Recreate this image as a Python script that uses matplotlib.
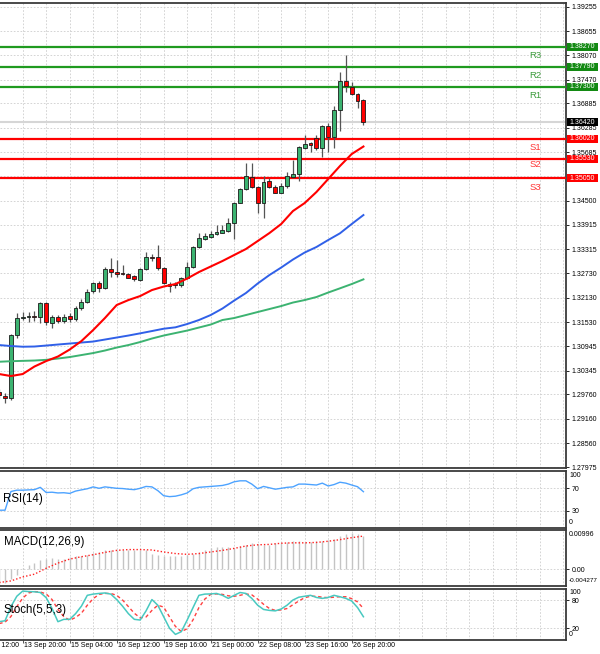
import matplotlib
matplotlib.use("Agg")
import matplotlib.pyplot as plt
import matplotlib.transforms as mtransforms
from matplotlib.patches import Rectangle
import numpy as np

plt.rcParams['font.family'] = ['Liberation Sans', 'DejaVu Sans']

# USDCAD H4 candles; index 0 is 13 Sep 20:00, the first one shown is index -4
first_idx = -4
opens = [1.29826, 1.29720, 1.29671, 1.31214, 1.31631, 1.31655, 1.31690, 1.31663, 1.32005, 1.31516,
         1.31648, 1.31565, 1.31680, 1.31599, 1.31868, 1.32030, 1.32292, 1.32480, 1.32373, 1.32823,
         1.32765, 1.32725, 1.32701, 1.32659, 1.32561, 1.32823, 1.33125, 1.33117, 1.32863, 1.32422,
         1.32463, 1.32439, 1.32603, 1.32872, 1.33362, 1.33565, 1.33622, 1.33681, 1.33720, 1.33769,
         1.33950, 1.34454, 1.34783, 1.35091, 1.34846, 1.34440, 1.34986, 1.34846, 1.34699, 1.34871,
         1.35091, 1.35157, 1.35802, 1.35909, 1.36032, 1.35787, 1.36333, 1.36071, 1.36725, 1.37442,
         1.37296, 1.37109, 1.36970]
highs = [1.29892, 1.29786, 1.31251, 1.31746, 1.31785, 1.31785, 1.31809, 1.32030, 1.32030, 1.31704,
         1.31704, 1.31720, 1.31760, 1.31917, 1.32096, 1.32333, 1.32520, 1.32537, 1.32887, 1.33093,
         1.33051, 1.32929, 1.32725, 1.32684, 1.32848, 1.33240, 1.33198, 1.33418, 1.32887, 1.32505,
         1.32520, 1.32642, 1.33010, 1.33401, 1.33720, 1.33705, 1.33769, 1.33908, 1.33908, 1.34087,
         1.34479, 1.34807, 1.35434, 1.35434, 1.34863, 1.35108, 1.35052, 1.34888, 1.34930, 1.35214,
         1.35500, 1.35843, 1.36113, 1.35949, 1.36113, 1.36357, 1.36399, 1.36823, 1.37663, 1.38072,
         1.37403, 1.37134, 1.36987]
lows = [1.29671, 1.29541, 1.29622, 1.31133, 1.31582, 1.31540, 1.31565, 1.31520, 1.31459, 1.31393,
        1.31516, 1.31500, 1.31540, 1.31550, 1.31827, 1.31990, 1.32236, 1.32275, 1.32341, 1.32642,
        1.32627, 1.32684, 1.32603, 1.32537, 1.32537, 1.32806, 1.33034, 1.32806, 1.32456, 1.32275,
        1.32358, 1.32398, 1.32586, 1.32848, 1.33338, 1.33541, 1.33582, 1.33663, 1.33705, 1.33744,
        1.33558, 1.34440, 1.34766, 1.34807, 1.34210, 1.34072, 1.34822, 1.34685, 1.34685, 1.34807,
        1.35052, 1.34993, 1.35762, 1.35704, 1.35745, 1.35566, 1.35704, 1.35787, 1.36218, 1.37173,
        1.37092, 1.36767, 1.36357]
closes = [1.29744, 1.29664, 1.31214, 1.31631, 1.31655, 1.31680, 1.31665, 1.32005, 1.31540, 1.31663,
          1.31565, 1.31663, 1.31599, 1.31868, 1.32030, 1.32275, 1.32480, 1.32373, 1.32823, 1.32765,
          1.32701, 1.32708, 1.32618, 1.32578, 1.32823, 1.33117, 1.33100, 1.32848, 1.32480, 1.32463,
          1.32439, 1.32603, 1.32887, 1.33377, 1.33597, 1.33639, 1.33688, 1.33744, 1.33786, 1.33950,
          1.34454, 1.34783, 1.35108, 1.34846, 1.34440, 1.34969, 1.34846, 1.34699, 1.34871, 1.35101,
          1.35157, 1.35811, 1.35885, 1.35860, 1.35787, 1.36333, 1.36071, 1.36725, 1.37442, 1.37320,
          1.37117, 1.36953, 1.36420]

# moving averages read every second candle
ma_idx = list(range(-4, 59, 2))
ma_red = [1.30259, 1.30210, 1.30259, 1.30443, 1.30577, 1.30688, 1.30859, 1.31067, 1.31337, 1.31631,
          1.31949, 1.32071, 1.32169, 1.32316, 1.32402, 1.32463, 1.32598, 1.32757, 1.32892, 1.33027,
          1.33174, 1.33321, 1.33516, 1.33712, 1.33933, 1.34251, 1.34447, 1.34717, 1.35035, 1.35353,
          1.35647, 1.35831]
ma_blue = [1.30969, 1.30945, 1.30928, 1.30933, 1.30957, 1.30982, 1.31006, 1.31031, 1.31055, 1.31104,
           1.31153, 1.31202, 1.31256, 1.31312, 1.31369, 1.31403, 1.31484, 1.31582, 1.31704, 1.31863,
           1.32059, 1.32243, 1.32476, 1.32684, 1.32867, 1.33063, 1.33235, 1.33370, 1.33541, 1.33705,
           1.33933, 1.34153]
ma_green = [1.30560, 1.30573, 1.30582, 1.30590, 1.30607, 1.30639, 1.30675, 1.30724, 1.30773, 1.30835,
            1.30908, 1.30969, 1.31043, 1.31129, 1.31202, 1.31263, 1.31324, 1.31398, 1.31471, 1.31582,
            1.31631, 1.31704, 1.31778, 1.31851, 1.31924, 1.32010, 1.32071, 1.32145, 1.32255, 1.32358,
            1.32463, 1.32578]

level_names = ['R3', 'R2', 'R1', 'S1', 'S2', 'S3']
level_values = [1.38270, 1.37790, 1.37300, 1.36020, 1.35530, 1.35050]
last_price = 1.36420

# 1.35100 sits behind the S3 box, so it gets a grid line but no label
price_grid = [1.39255, 1.38655, 1.38070, 1.37470, 1.36885, 1.36285, 1.35685, 1.35100, 1.34500,
              1.33915, 1.33315, 1.32730, 1.32130, 1.31530, 1.30945, 1.30345, 1.29760, 1.29160,
              1.28560, 1.27975]
price_ticks = [p for p in price_grid if p != 1.35100]

time_idx = [-8, 0, 8, 16, 24, 32, 40, 48, 56]
time_labels = ['12 Sep 12:00', '13 Sep 20:00', '15 Sep 04:00', '16 Sep 12:00', '19 Sep 16:00',
               '21 Sep 00:00', '22 Sep 08:00', '23 Sep 16:00', '26 Sep 20:00']

rsi = [31.4, 31.4, 64.3, 66.7, 66.7, 67.2, 67.6, 71.7, 62.6, 63.1, 61.8, 62.2, 61.0, 65.1, 67.2,
       69.2, 72.5, 70.0, 72.5, 71.3, 70.0, 69.6, 68.4, 67.6, 70.0, 73.3, 72.5, 65.9, 56.9, 55.3,
       56.1, 58.5, 61.8, 69.2, 71.7, 72.5, 73.3, 74.1, 75.0, 77.4, 81.5, 83.2, 83.2, 77.4, 69.2,
       73.3, 70.9, 68.4, 70.0, 71.7, 72.5, 77.4, 77.4, 76.6, 75.8, 79.1, 74.1, 76.6, 80.7, 79.1,
       75.8, 72.8, 64.0]

macd_hist = [-0.0037, -0.0034, -0.0026, -0.0014, 0.0002, 0.0009, 0.0015, 0.0024, 0.0026, 0.0028,
             0.0026, 0.0026, 0.0030, 0.0032, 0.0033, 0.0036, 0.0041, 0.0044, 0.0047, 0.0047,
             0.0048, 0.0048, 0.0048, 0.0048, 0.0047, 0.0047, 0.0037, 0.0036, 0.0032, 0.0032,
             0.0033, 0.0033, 0.0036, 0.0037, 0.0044, 0.0048, 0.0052, 0.0056, 0.0056, 0.0056,
             0.0052, 0.0057, 0.0061, 0.0065, 0.0064, 0.0061, 0.0061, 0.0065, 0.0065, 0.0067,
             0.0070, 0.0070, 0.0067, 0.0067, 0.0070, 0.0071, 0.0074, 0.0075, 0.0082, 0.0089,
             0.0092, 0.0089, 0.0083]
macd_signal = [-0.0034, -0.0030, -0.0020, -0.0013, 0.0002, 0.0015, 0.0025, 0.0031, 0.0036, 0.0042,
               0.0047, 0.0049, 0.0049, 0.0048, 0.0043, 0.0039, 0.0037, 0.0039, 0.0043, 0.0047,
               0.0052, 0.0058, 0.0061, 0.0062, 0.0065, 0.0066, 0.0066, 0.0067, 0.0070, 0.0074,
               0.0079, 0.0083]

stoch_k = [34, 36, 66, 88, 99, 98, 97.5, 96, 85, 62, 34, 39, 39, 51, 67, 90, 92.6, 94, 95, 92.6,
           81, 67, 51, 39, 37.5, 57, 81, 69, 44.5, 20, 7, 12.8, 37.5, 64, 90, 92.6, 93, 94, 90, 83.5,
           90, 96, 94, 83.5, 69, 60, 58, 57, 61, 69, 80, 86, 88, 90, 85.5, 83.5, 85.5, 90, 87, 83.5,
           78, 64, 44.5]
stoch_d = [30, 33, 45, 66, 84, 95, 98, 97, 93, 81, 60, 45, 37, 43, 52, 69, 83, 92, 94, 94, 90, 80,
           66, 52, 42, 44, 58, 69, 65, 44, 24, 13, 19, 38, 64, 82, 92, 93, 92, 89, 88, 90, 93, 91,
           82, 71, 62, 58, 59, 62, 70, 78, 85, 88, 88, 86, 85, 86, 87, 87, 83, 76, 62]

W, H = 600, 654
AX_R = 566 / W
X0, X1 = -3.86, 92.48
GRID = '#cdcdcd'
DARK = '#3a3a3a'


def panel(top, bottom):
    ax = fig.add_axes([0, 1 - bottom / H, AX_R, (bottom - top) / H])
    ax.set_xlim(X0, X1)
    ax.spines['left'].set_visible(False)
    for s in ['top', 'bottom', 'right']:
        ax.spines[s].set_color(DARK)
        ax.spines[s].set_linewidth(1.3)
    ax.yaxis.tick_right()
    ax.tick_params(axis='y', direction='out', length=2, width=0.6, pad=2,
                   labelsize=5, colors='black')
    ax.tick_params(axis='x', length=0, labelbottom=False)
    for g in range(0, 93, 4):
        ax.axvline(g, color=GRID, lw=0.6, ls=(0, (2, 2)), zorder=0)
    return ax


def side_text(ypx, s, size=5):
    fig.text(569 / W, 1 - ypx / H, s, fontsize=size, va='center', ha='left')


fig = plt.figure(figsize=(W / 100, H / 100), dpi=100)

# ---- price panel
ax = panel(3, 468)
ax.set_ylim(1.27958, 1.39346)
ax.set_yticks(price_ticks)
ax.set_yticklabels(['%.5f' % t for t in price_ticks])
for t in price_grid:
    ax.axhline(t, color=GRID, lw=0.6, ls=(0, (2, 2)), zorder=0)

ax.axhline(last_price, color='#d6d6d6', lw=1.5, zorder=1)

x = np.arange(len(opens)) + first_idx
o = np.array(opens)
c = np.array(closes)
up = c >= o
ax.vlines(x, lows, highs, color='#555555', lw=0.9, zorder=3)
ax.bar(x[up], (c - o)[up], bottom=o[up], width=0.66, color='#3cb371',
       edgecolor='#1a1a1a', lw=0.6, zorder=4)
ax.bar(x[~up], (o - c)[~up], bottom=c[~up], width=0.66, color='#ff0000',
       edgecolor='#1a1a1a', lw=0.6, zorder=4)

ax.plot(ma_idx, ma_green, color='#3cb371', lw=1.4, zorder=5)
ax.plot(ma_idx, ma_blue, color='#3060e8', lw=1.4, zorder=5)
ax.plot(ma_idx, ma_red, color='#ff0000', lw=1.5, zorder=5)

btrans = mtransforms.blended_transform_factory(ax.transAxes, ax.transData)
box_h = 8 / 4083
name_offsets = [8.8, 9.3, 8.5, 8.3, 5.5, 9.0]
for name, val, off in zip(level_names, level_values, name_offsets):
    is_r = name.startswith('R')
    line_col = '#1f9a1f' if is_r else '#ff0000'
    box_col = '#138a13' if is_r else '#ff0000'
    txt_col = '#3d9c3d' if is_r else '#ff3333'
    ax.axhline(val, color=line_col, lw=1.6, zorder=2.8)
    ax.add_patch(Rectangle((1.001, val - box_h / 2), 31 / 566, box_h, transform=btrans,
                           facecolor=box_col, edgecolor='none', clip_on=False, zorder=6))
    ax.text(1.006, val, '%.5f' % val, transform=btrans, color='white', fontsize=5,
            va='center', ha='left', clip_on=False, zorder=7)
    ax.annotate(name, (87.2, val), xytext=(0, -off * 0.72), textcoords='offset points',
                ha='center', va='center', fontsize=6.8, color=txt_col, zorder=6)

ax.add_patch(Rectangle((1.001, last_price - box_h / 2), 31 / 566, box_h, transform=btrans,
                       facecolor='black', edgecolor='none', clip_on=False, zorder=6))
ax.text(1.006, last_price, '%.5f' % last_price, transform=btrans, color='white', fontsize=5,
        va='center', ha='left', clip_on=False, zorder=7)

# ---- RSI
ax_rsi = panel(471, 527.5)
ax_rsi.set_ylim(0.9, 100.5)
ax_rsi.set_yticks([70, 30])
ax_rsi.set_yticklabels(['70', '30'])
for g in [70, 30]:
    ax_rsi.axhline(g, color=GRID, lw=0.6, ls=(0, (2, 2)), zorder=0)
ax_rsi.plot(x, rsi, color='#4da3ff', lw=1.0, zorder=3)
side_text(475.7, '100')
side_text(522.3, '0')
fig.text(3 / W, 1 - 499 / H, 'RSI(14)', fontsize=8.3, va='center', ha='left')

# ---- MACD
ax_m = panel(529.5, 586)
ax_m.set_ylim(-0.004277, 0.00996)
ax_m.set_yticks([0])
ax_m.set_yticklabels(['0.00'])
ax_m.axhline(0, color=GRID, lw=0.6, ls=(0, (2, 2)), zorder=0)
ax_m.vlines(x, 0, macd_hist, color='#c4c4c4', lw=1.0, zorder=2)
ax_m.plot(ma_idx, macd_signal, color='#ff2020', lw=1.0, ls=(0, (1, 1.5)), zorder=3)
side_text(535, '0.00996')
side_text(580.7, '-0.004277', size=4.6)
fig.text(4 / W, 1 - 542 / H, 'MACD(12,26,9)', fontsize=8.3, va='center', ha='left')

# ---- Stochastic
ax_s = panel(588.5, 640)
ax_s.set_ylim(-4.9, 104.5)
ax_s.set_yticks([80, 20])
ax_s.set_yticklabels(['80', '20'])
for g in [80, 20]:
    ax_s.axhline(g, color=GRID, lw=0.6, ls=(0, (2, 2)), zorder=0)
ax_s.plot(x, stoch_d, color='#ff4040', lw=1.0, ls=(0, (2.5, 2)), zorder=3)
ax_s.plot(x, stoch_k, color='#48c9c0', lw=1.1, zorder=4)
side_text(592.7, '100')
side_text(634.5, '0')
fig.text(4 / W, 1 - 610 / H, 'Stoch(5,5,3)', fontsize=8.3, va='center', ha='left')

ax_s.set_xticks([t for t in time_idx if t >= X0])
ax_s.tick_params(axis='x', direction='out', length=2, width=0.6, colors=DARK)
ttrans = mtransforms.blended_transform_factory(ax_s.transData, ax_s.transAxes)
for t, lab in zip(time_idx, time_labels):
    ax_s.text(t + 0.15, -0.035, lab, transform=ttrans, fontsize=5, ha='left', va='top',
              clip_on=False)

fig.savefig('out.png', dpi=100, facecolor='white')
